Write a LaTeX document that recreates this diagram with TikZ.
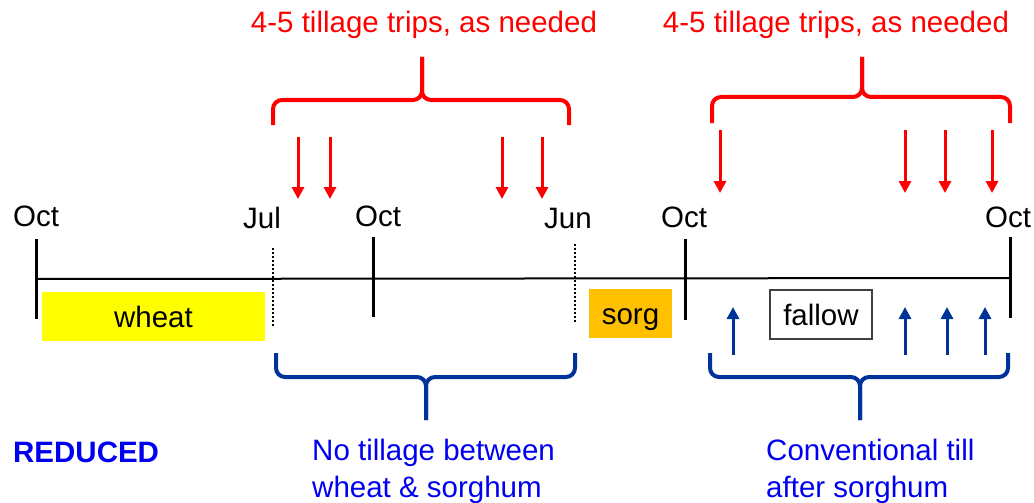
\documentclass[tikz,border=0pt]{standalone}
\usepackage{fontspec}
\setmainfont{Liberation Sans}
\usetikzlibrary{arrows.meta}
\definecolor{tred}{RGB}{255,0,0}
\definecolor{tblue}{RGB}{0,51,153}
\definecolor{ttext}{RGB}{0,0,240}
\definecolor{wheatc}{RGB}{255,255,0}
\definecolor{sorgc}{RGB}{255,192,0}
\definecolor{boxline}{RGB}{64,64,64}
\begin{document}
\begin{tikzpicture}[x=1pt,y=-1pt,
  bigfont/.style={font=\fontsize{29.5}{37}\selectfont},
  lbl/.style={bigfont, inner sep=0pt, anchor=base},
  redlbl/.style={lbl, text=tred},
  bluelbl/.style={bigfont, inner sep=0pt, anchor=base west, text=ttext},
  cropbox/.style={bigfont, inner sep=0pt, text height=21.5pt, text depth=0pt},
  tickline/.style={line width=3pt, black},
  dotline/.style={line width=2pt, black, dash pattern=on 2pt off 2pt},
  timeline/.style={line width=2pt, black},
  redarr/.style={line width=3pt, tred, -{Triangle[width=12pt,length=12pt]}},
  bluearr/.style={line width=3pt, tblue, -{Triangle[width=12pt,length=12pt]}},
  redbrace/.style={line width=4pt, tred, rounded corners=9pt},
  bluebrace/.style={line width=4pt, tblue, rounded corners=9pt},
]
\useasboundingbox (0,0) rectangle (1034,503);

% timeline
\coordinate (tl0) at (36,279);
\coordinate (tl1) at (1010,278);
\draw[timeline] (tl0) -- (tl1);

% ticks
\coordinate (t1a) at (36,239);  \coordinate (t1b) at (36,319);
\coordinate (t2a) at (373,237); \coordinate (t2b) at (373,317);
\coordinate (t3a) at (685,239); \coordinate (t3b) at (685,320);
\coordinate (t4a) at (1010,237);\coordinate (t4b) at (1010,318);
\draw[tickline] (t1a) -- (t1b);
\draw[tickline] (t2a) -- (t2b);
\draw[tickline] (t3a) -- (t3b);
\draw[tickline] (t4a) -- (t4b);

% dotted lines
\coordinate (d1a) at (273,248); \coordinate (d1b) at (273,326);
\coordinate (d2a) at (575,244); \coordinate (d2b) at (575,322);
\draw[dotline] (d1a) -- (d1b);
\draw[dotline] (d2a) -- (d2b);

% month labels
\node[lbl] (oct1) at (36,226) {Oct};
\node[lbl] (jul)  at (262,228) {Jul};
\node[lbl] (oct2) at (378,226) {Oct};
\node[lbl] (jun)  at (568,228) {Jun};
\node[lbl] (oct3) at (684,227) {Oct};
\node[lbl] (oct4) at (1008,227) {Oct};

% crop boxes
\node[cropbox, fill=wheatc, minimum width=223pt, minimum height=49pt] (wheat) at (153.5,316.5) {wheat};
\node[cropbox, fill=sorgc, minimum width=83pt, minimum height=49pt] (sorg) at (630.5,313.5) {sorg};
\node[cropbox, draw=boxline, line width=1.5pt, fill=white, minimum width=102pt, minimum height=49pt] (fallow) at (821,314.5) {fallow};

% red titles
\node[redlbl] (title1) at (424,33) {4-5 tillage trips, as needed};
\node[redlbl] (title2) at (836,33) {4-5 tillage trips, as needed};

% red braces
\draw[redbrace] (273,125) -- (273,100) -- (422,100) -- (422,57);
\draw[redbrace] (569,125) -- (569,100) -- (422,100) -- (422,57);
\draw[redbrace] (712,123) -- (712,97) -- (862,97) -- (862,57);
\draw[redbrace] (1010,123) -- (1010,97) -- (862,97) -- (862,57);

% red arrows
\foreach \i/\x in {1/298,2/330,3/502,4/542}{
  \coordinate (ra\i s) at (\x,137);
  \coordinate (ra\i e) at (\x,199);
  \draw[redarr] (ra\i s) -- (ra\i e);
}
\foreach \i/\x in {5/720,6/905,7/945,8/992}{
  \coordinate (ra\i s) at (\x,130);
  \coordinate (ra\i e) at (\x,193);
  \draw[redarr] (ra\i s) -- (ra\i e);
}

% blue arrows
\foreach \i/\x in {1/733,2/905,3/947,4/985}{
  \coordinate (ba\i s) at (\x,355);
  \coordinate (ba\i e) at (\x,307);
  \draw[bluearr] (ba\i s) -- (ba\i e);
}

% blue braces
\draw[bluebrace] (276,353) -- (276,377) -- (426,377) -- (426,420);
\draw[bluebrace] (575,353) -- (575,377) -- (426,377) -- (426,420);
\draw[bluebrace] (710,353) -- (710,377) -- (860,377) -- (860,420);
\draw[bluebrace] (1008,353) -- (1008,377) -- (860,377) -- (860,420);

% bottom texts
\node[inner sep=0pt, anchor=base west, text=ttext, font=\fontsize{29.5}{37}\selectfont\bfseries] (reduced) at (13,462) {REDUCED};
\node[bluelbl] (notillA) at (312,460) {No tillage between};
\node[bluelbl] (notillB) at (312,497) {wheat \& sorghum};
\node[bluelbl] (convA) at (766,460) {Conventional till};
\node[bluelbl] (convB) at (766,497) {after sorghum};
\end{tikzpicture}
\end{document}
